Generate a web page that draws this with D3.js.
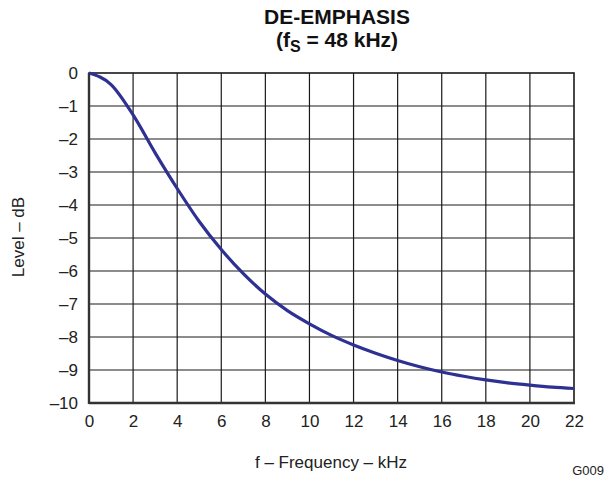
<!DOCTYPE html>
<html><head><meta charset="utf-8">
<script src="https://cdn.jsdelivr.net/npm/d3@7"></script>
<style>body{margin:0;background:#fff;}svg{display:block;font-family:"Liberation Sans",Arial,sans-serif;}</style>
</head><body>
<svg id="c" width="605" height="478"></svg>
<script>
const freqKHz = [0,1,2,3,4,5,6,7,8,9,10,11,12,13,14,15,16,17,18,19,20,21,22];
const levelDB = [0,-0.35,-1.27,-2.42,-3.5,-4.5,-5.35,-6.08,-6.7,-7.2,-7.6,-7.95,-8.24,-8.49,-8.71,-8.9,-9.06,-9.19,-9.3,-9.39,-9.46,-9.52,-9.56];
const xTicks = [0,2,4,6,8,10,12,14,16,18,20,22];
const yTicks = [0,-1,-2,-3,-4,-5,-6,-7,-8,-9,-10];

const svg = d3.select("#c");
const L=89, R=574, T=73, B=403;
const x = d3.scaleLinear().domain([0,22]).range([L,R]);
const y = d3.scaleLinear().domain([-10,0]).range([B,T]);
const fmt = v => v<0 ? "\u2013"+Math.abs(v) : String(v);

// grid
svg.append("g").selectAll("line").data(xTicks.slice(1,-1)).join("line")
  .attr("x1",d=>x(d)).attr("x2",d=>x(d)).attr("y1",T).attr("y2",B)
  .attr("stroke","#1a1a1a").attr("stroke-width",1.2);
svg.append("g").selectAll("line").data(yTicks.slice(1,-1)).join("line")
  .attr("y1",d=>y(d)).attr("y2",d=>y(d)).attr("x1",L).attr("x2",R)
  .attr("stroke","#1a1a1a").attr("stroke-width",1.2);
// frame
svg.append("rect").attr("x",L).attr("y",T).attr("width",R-L).attr("height",B-T)
  .attr("fill","none").attr("stroke","#1a1a1a").attr("stroke-width",1.6);
svg.append("line").attr("x1",L).attr("x2",L).attr("y1",T).attr("y2",B+1).attr("stroke","#333").attr("stroke-width",2.4);
svg.append("line").attr("x1",L).attr("x2",R+1).attr("y1",B).attr("y2",B).attr("stroke","#333").attr("stroke-width",2.4);

// axes labels via d3 axes
const xa = svg.append("g").attr("transform",`translate(0,${B})`)
  .call(d3.axisBottom(x).tickValues(xTicks).tickFormat(fmt).tickSize(0).tickPadding(12));
const ya = svg.append("g").attr("transform",`translate(${L},0)`)
  .call(d3.axisLeft(y).tickValues(yTicks).tickFormat(fmt).tickSize(0).tickPadding(11));
[xa,ya].forEach(g=>{g.select(".domain").remove();
  g.selectAll("text").attr("font-size",17).attr("fill","#222").attr("font-family","Liberation Sans, Arial, sans-serif");});

// curve
svg.append("path").datum(freqKHz.map((f,i)=>[f,levelDB[i]]))
  .attr("d",d3.line().x(d=>x(d[0])).y(d=>y(d[1])).curve(d3.curveMonotoneX))
  .attr("fill","none").attr("stroke","#2e3192").attr("stroke-width",3.2);

// titles
svg.append("text").attr("x",337).attr("y",24).attr("text-anchor","middle")
  .attr("font-size",21).attr("font-weight","bold").attr("fill","#111").text("DE-EMPHASIS");
const t2 = svg.append("text").attr("x",337).attr("y",47).attr("text-anchor","middle")
  .attr("font-size",21).attr("font-weight","bold").attr("fill","#111");
t2.append("tspan").text("(f");
t2.append("tspan").attr("font-size",16).attr("dy",5).text("S");
t2.append("tspan").attr("dy",-5).text(" = 48 kHz)");

svg.append("text").attr("x",331).attr("y",468).attr("text-anchor","middle")
  .attr("font-size",17).attr("fill","#222").text("f \u2013 Frequency \u2013 kHz");
svg.append("text").attr("transform","translate(24,237) rotate(-90)").attr("text-anchor","middle")
  .attr("font-size",17).attr("fill","#222").text("Level \u2013 dB");
svg.append("text").attr("x",604).attr("y",475).attr("text-anchor","end")
  .attr("font-size",13).attr("fill","#222").text("G009");
</script>
</body></html>
